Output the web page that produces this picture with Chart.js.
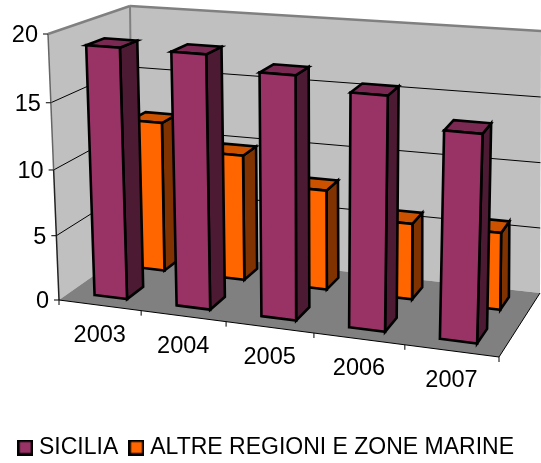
<!DOCTYPE html>
<html><head><meta charset="utf-8">
<script src="https://cdn.jsdelivr.net/npm/chart.js@4"></script>
<style>html,body{margin:0;padding:0;background:#fff}canvas{display:block}</style>
</head><body><canvas id="c" width="541" height="463"></canvas>
<script>
const categories = ['2003','2004','2005','2006','2007'];
const sicilia = [19, 19, 18.0, 17.1, 15.0];
const altre = [11.8, 9.8, 7.7, 5.8, 5.8];
const yTicks = [0,5,10,15,20];
const FONT = '"Liberation Sans", Arial, sans-serif';

function quad(p0,p1,p2,p3){
  const dx1=p1[0]-p2[0],dx2=p3[0]-p2[0],sx=p0[0]-p1[0]+p2[0]-p3[0];
  const dy1=p1[1]-p2[1],dy2=p3[1]-p2[1],sy=p0[1]-p1[1]+p2[1]-p3[1];
  const den=dx1*dy2-dx2*dy1;
  const g=(sx*dy2-dx2*sy)/den,h=(dx1*sy-sx*dy1)/den;
  const a=p1[0]-p0[0]+g*p1[0],b=p3[0]-p0[0]+h*p3[0],c=p0[0];
  const d=p1[1]-p0[1]+g*p1[1],e=p3[1]-p0[1]+h*p3[1],f=p0[1];
  return (u,v)=>{const w=g*u+h*v+1;return [(a*u+b*v+c)/w,(d*u+e*v+f)/w];};
}
const frontPlane = quad([59,300],[499,357],[509,69],[48,34]);
const backPlane  = quad([133,248],[540,293],[541,31],[130,6]);
function project(u,d,v){
  const f=frontPlane(u,v),b=backPlane(u,v);
  return [f[0]+(b[0]-f[0])*d,f[1]+(b[1]-f[1])*d];
}
function poly(ctx,pts,fill,stroke,lw){
  ctx.beginPath();
  pts.forEach((p,i)=>i?ctx.lineTo(p[0],p[1]):ctx.moveTo(p[0],p[1]));
  ctx.closePath();
  if(fill){ctx.fillStyle=fill;ctx.fill();}
  if(stroke){ctx.strokeStyle=stroke;ctx.lineWidth=lw;ctx.lineJoin='miter';ctx.stroke();}
}
function seg(ctx,a,b,color,lw){
  ctx.beginPath();ctx.moveTo(a[0],a[1]);ctx.lineTo(b[0],b[1]);
  ctx.strokeStyle=color;ctx.lineWidth=lw;ctx.stroke();
}
const rows=[[0.155,0.385],[0.69,0.89]];
const shades=[{side:'#4d1a33',top:'#7a2952'},{side:'#803300',top:'#cc5200'}];

const scene3d={
  id:'scene3d',
  beforeDatasetsDraw(chart){
    const ctx=chart.ctx,ys=chart.scales.y,xs=chart.scales.x;
    const vOf=val=>(ys.bottom-ys.getPixelForValue(val))/(ys.bottom-ys.top);
    const uOf=px=>(px-xs.left)/(xs.right-xs.left);
    ctx.save();
    poly(ctx,[project(0,0,0),project(0,0,1),project(0,1,1),project(0,1,0)],'#c0c0c0');
    poly(ctx,[project(0,1,0),project(0,1,1),project(1,1,1),project(1,1,0)],'#c0c0c0');
    poly(ctx,[project(0,0,0),project(1,0,0),project(1,1,0),project(0,1,0)],'#808080');
    ys.ticks.forEach(t=>{
      const v=vOf(t.value);
      if(t.value>0&&t.value<20){
        seg(ctx,project(0,0,v),project(0,1,v),'#000',1);
        seg(ctx,project(0,1,v),project(1,1,v),'#000',1);
      }
    });
    seg(ctx,project(0,0,1),project(0,1,1),'#808080',2.5);
    seg(ctx,project(0,1,1),project(1,1,1),'#808080',2.5);
    seg(ctx,project(0,1,1),project(0,1,0),'#808080',2);
    seg(ctx,project(0,0,1),project(0,0,0.5),'#666',1.5);
    seg(ctx,project(0,0,0.5),project(0,0,0),'#222',1.5);
    seg(ctx,project(0,0,0),project(1,0,0),'#000',1);
    seg(ctx,project(1,0,0),project(1,1,0),'#000',1);
    ctx.fillStyle='#000';ctx.font='23.5px '+FONT;
    ys.ticks.forEach(t=>{
      const p=project(0,0,vOf(t.value));
      seg(ctx,[p[0]-5,p[1]],p,'#000',1);
      ctx.textAlign='right';ctx.textBaseline='middle';ctx.fillStyle='#000';
      ctx.fillText(String(t.value),p[0]-10,p[1]+2);
    });
    const n=categories.length;
    for(let i=0;i<=n;i++){
      const p=project(i/n,0,0);
      seg(ctx,p,[p[0],p[1]+5],'#000',1);
    }
    categories.forEach((c,i)=>{
      const p=project(uOf(xs.getPixelForValue(i)),0,0);
      ctx.textAlign='center';ctx.textBaseline='middle';ctx.fillStyle='#000';
      ctx.fillText(c,p[0],p[1]+30);
    });
    [1,0].forEach(ds=>{
      const meta=chart.getDatasetMeta(ds),col=chart.data.datasets[ds].backgroundColor;
      const [d0,d1]=rows[ds],sh=shades[ds];
      meta.data.forEach(el=>{
        const p=el.getProps(['x','y','base','width'],true);
        const u0=uOf(p.x-p.width/2),u1=uOf(p.x+p.width/2);
        const v=(ys.bottom-p.y)/(ys.bottom-ys.top);
        poly(ctx,[project(u1,d0,0),project(u1,d1,0),project(u1,d1,v),project(u1,d0,v)],sh.side,'#000',2.6);
        poly(ctx,[project(u0,d0,v),project(u1,d0,v),project(u1,d1,v),project(u0,d1,v)],sh.top,'#000',2.6);
        poly(ctx,[project(u0,d0,0),project(u1,d0,0),project(u1,d0,v),project(u0,d0,v)],col,'#000',2.6);
      });
    });
    ctx.restore();
    return false;
  }
};
function swatch(color){
  const s=document.createElement('canvas');s.width=16;s.height=16;
  const g=s.getContext('2d');g.fillStyle=color;g.fillRect(0,0,16,16);
  g.strokeStyle='#000';g.lineWidth=2.5;g.strokeRect(1.25,1.25,13.5,13.5);
  return s;
}
new Chart(document.getElementById('c'),{
  type:'bar',
  data:{labels:categories,datasets:[
    {label:'SICILIA',data:sicilia,backgroundColor:'#993366',grouped:false,categoryPercentage:0.40,barPercentage:1},
    {label:'ALTRE REGIONI E ZONE MARINE',data:altre,backgroundColor:'#ff6600',grouped:false,categoryPercentage:0.40,barPercentage:1}
  ]},
  plugins:[scene3d],
  options:{
    responsive:false,animation:false,
    layout:{padding:{bottom:-6,right:4}},
    scales:{
      x:{display:false},
      y:{display:false,min:0,max:20,afterBuildTicks(a){a.ticks=yTicks.map(v=>({value:v}));}}
    },
    plugins:{
      tooltip:{enabled:false},
      legend:{position:'bottom',labels:{
        font:{size:23,family:FONT},color:'#000',boxWidth:4.5,padding:16,usePointStyle:true,
        generateLabels(chart){
          return chart.data.datasets.map((d,i)=>({text:d.label,datasetIndex:i,pointStyle:swatch(d.backgroundColor),fontColor:'#000',lineWidth:0,strokeStyle:'transparent',fillStyle:'transparent'}));
        }
      }}
    }
  }
});
</script></body></html>
